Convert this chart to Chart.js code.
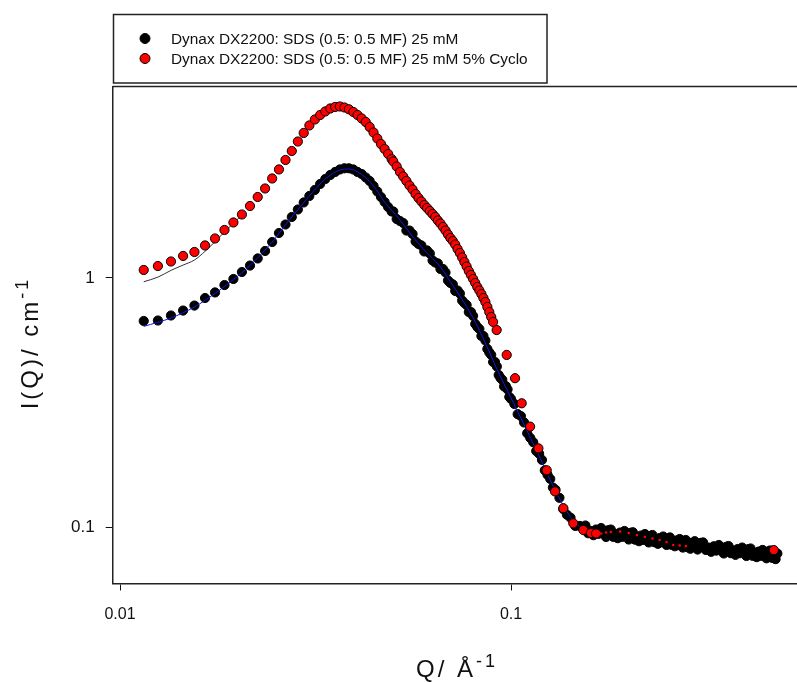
<!DOCTYPE html>
<html>
<head>
<meta charset="UTF-8">
<script src="https://cdn.jsdelivr.net/npm/chart.js"></script>
<style>
  * { margin: 0; padding: 0; }
  body { background: #fff; }
  #wrap { width: 797px; height: 682px; }
</style>
</head>
<body>
<div id="wrap"><canvas id="myChart" width="797" height="682"></canvas></div>
<script>
// Dynax DX2200: SDS (0.5: 0.5 MF) 25 mM  (black symbols)
const blackQ = [
  0.0115, 0.0125, 0.0135, 0.0145, 0.0155, 0.0165, 0.0175, 0.0185, 0.0195, 0.0205,
  0.0215, 0.0225, 0.0235, 0.0245, 0.0255, 0.0265, 0.0275, 0.0285, 0.0295, 0.0305,
  0.0315, 0.0325, 0.0335, 0.0345, 0.0355, 0.0365, 0.0375, 0.0385, 0.0395, 0.0405,
  0.0415, 0.0425, 0.0435, 0.0445, 0.0455, 0.0465, 0.0475, 0.0485, 0.0495,
  0.050, 0.051, 0.052, 0.053, 0.054, 0.055, 0.056, 0.057, 0.058, 0.059,
  0.060, 0.061, 0.062, 0.063, 0.064, 0.065, 0.066, 0.067, 0.068, 0.069,
  0.070, 0.071, 0.072, 0.073, 0.074, 0.075, 0.076, 0.077, 0.078, 0.079,
  0.080, 0.081, 0.082, 0.083, 0.084, 0.085, 0.086, 0.087, 0.088, 0.089,
  0.090, 0.091, 0.092, 0.093, 0.094, 0.095, 0.096, 0.097, 0.098, 0.099,
  0.100, 0.102, 0.104, 0.106, 0.108, 0.110, 0.112, 0.114, 0.116, 0.118,
  0.120, 0.122, 0.124, 0.126, 0.128, 0.130, 0.133, 0.136, 0.139, 0.142,
  0.146, 0.150,
  0.155, 0.1575, 0.160, 0.1625, 0.165, 0.1675, 0.170, 0.1725, 0.175, 0.1775,
  0.180, 0.1825, 0.185, 0.1875, 0.190, 0.1925, 0.195, 0.1975, 0.200, 0.2025,
  0.205, 0.2075, 0.210, 0.2125, 0.215, 0.2175, 0.220, 0.2225, 0.225, 0.2275,
  0.230, 0.2325, 0.235, 0.2375, 0.240, 0.2425, 0.245, 0.2475, 0.250, 0.2525,
  0.255, 0.2575, 0.260, 0.2625, 0.265, 0.2675, 0.270, 0.2725, 0.275, 0.2775,
  0.280, 0.2825, 0.285, 0.2875, 0.290, 0.2925, 0.295, 0.2975, 0.300,
  0.305, 0.31, 0.315, 0.32, 0.325, 0.33, 0.335, 0.34, 0.345, 0.35,
  0.355, 0.36, 0.365, 0.37, 0.375, 0.38, 0.385, 0.39, 0.395, 0.40,
  0.405, 0.41, 0.415, 0.42, 0.425, 0.43, 0.435, 0.44, 0.445, 0.45,
  0.455, 0.46, 0.465, 0.47, 0.475, 0.48
];
const blackI = [
  0.672, 0.675, 0.707, 0.740, 0.775, 0.831, 0.875, 0.937, 0.991, 1.057,
  1.122, 1.198, 1.284, 1.395, 1.516, 1.640, 1.758, 1.884, 2.011, 2.135,
  2.257, 2.385, 2.498, 2.593, 2.666, 2.728, 2.758, 2.758, 2.728, 2.666,
  2.616, 2.533, 2.453, 2.342, 2.226, 2.115, 2.020, 1.928, 1.850,
  1.850, 1.726, 1.694, 1.663, 1.551, 1.551, 1.502, 1.402, 1.370, 1.351,
  1.278, 1.290, 1.254, 1.176, 1.154, 1.144, 1.087, 1.087, 1.052, 0.977,
  0.955, 0.942, 0.887, 0.891, 0.866, 0.812, 0.793, 0.779, 0.730, 0.730,
  0.704, 0.654, 0.636, 0.624, 0.585, 0.585, 0.561, 0.519, 0.502, 0.491,
  0.460, 0.460, 0.441, 0.408, 0.397, 0.390, 0.367, 0.368, 0.357, 0.333,
  0.327, 0.312, 0.284, 0.279, 0.263, 0.238, 0.228, 0.219, 0.202, 0.197,
  0.186, 0.169, 0.162, 0.156, 0.144, 0.141, 0.131, 0.118, 0.112, 0.109,
  0.101, 0.101,
  0.1014, 0.0944, 0.0964, 0.0927, 0.0977, 0.0939, 0.0991, 0.0942, 0.0912, 0.0971,
  0.0977, 0.0913, 0.0937, 0.0902, 0.0950, 0.0913, 0.0964, 0.0918, 0.0891, 0.0948,
  0.0953, 0.0890, 0.0912, 0.0877, 0.0924, 0.0888, 0.0937, 0.0893, 0.0867, 0.0922,
  0.0929, 0.0869, 0.0891, 0.0856, 0.0903, 0.0869, 0.0916, 0.0872, 0.0847, 0.0902,
  0.0908, 0.0848, 0.0871, 0.0837, 0.0883, 0.0848, 0.0895, 0.0853, 0.0827, 0.0880,
  0.0887, 0.0830, 0.0851, 0.0818, 0.0863, 0.0831, 0.0877, 0.0836, 0.0812,
  0.0863, 0.0867, 0.0809, 0.0827, 0.0795, 0.0837, 0.0804, 0.0847, 0.0807, 0.0783,
  0.0833, 0.0839, 0.0785, 0.0805, 0.0773, 0.0816, 0.0785, 0.0827, 0.0788, 0.0765,
  0.0815, 0.0820, 0.0766, 0.0787, 0.0757, 0.0797, 0.0766, 0.0809, 0.0771, 0.0749,
  0.0798, 0.0805, 0.0752, 0.0772, 0.0743, 0.0783
];

// Dynax DX2200: SDS (0.5: 0.5 MF) 25 mM 5% Cyclo  (red symbols)
const redQ = [
  0.0115, 0.0125, 0.0135, 0.0145, 0.0155, 0.0165, 0.0175, 0.0185, 0.0195, 0.0205,
  0.0215, 0.0225, 0.0235, 0.0245, 0.0255, 0.0265, 0.0275, 0.0285, 0.0295, 0.0305,
  0.0315, 0.0325, 0.0335, 0.0345, 0.0355, 0.0365, 0.0375, 0.0385, 0.0395, 0.0405,
  0.0415, 0.0425, 0.0435, 0.0445, 0.0455, 0.0465, 0.0475, 0.0485, 0.0495,
  0.050, 0.051, 0.052, 0.053, 0.054, 0.055, 0.056, 0.057, 0.058, 0.059,
  0.060, 0.061, 0.062, 0.063, 0.064, 0.065, 0.066, 0.067, 0.068, 0.069,
  0.070, 0.071, 0.072, 0.073, 0.074, 0.075, 0.076, 0.077, 0.078, 0.079,
  0.080, 0.081, 0.082, 0.083, 0.084, 0.085, 0.086, 0.087, 0.088, 0.089,
  0.090,
  0.0919, 0.0975, 0.1024, 0.1065, 0.1119, 0.1175, 0.1234, 0.1296, 0.1361, 0.1443,
  0.1531, 0.160, 0.165, 0.170, 0.175, 0.180, 0.19, 0.20, 0.21, 0.22,
  0.23, 0.24, 0.25, 0.26, 0.27, 0.28, 0.29, 0.30, 0.32, 0.34,
  0.36, 0.38, 0.40, 0.42, 0.44, 0.47
];
const redI = [
  1.077, 1.117, 1.165, 1.226, 1.272, 1.351, 1.441, 1.559, 1.671, 1.799,
  1.946, 2.115, 2.288, 2.510, 2.728, 2.978, 3.236, 3.533, 3.823, 4.098,
  4.331, 4.515, 4.664, 4.795, 4.862, 4.884, 4.839, 4.759, 4.642, 4.515,
  4.372, 4.233, 4.041, 3.840, 3.633, 3.453, 3.297, 3.148, 3.005,
  2.937, 2.804, 2.666, 2.557, 2.453, 2.352, 2.267, 2.174, 2.096, 2.029,
  1.964, 1.910, 1.858, 1.807, 1.758, 1.702, 1.655, 1.603, 1.551, 1.495,
  1.447, 1.408, 1.363, 1.307, 1.260, 1.209, 1.159, 1.112, 1.067, 1.028,
  0.991, 0.955, 0.920, 0.891, 0.862, 0.831, 0.801, 0.765, 0.730, 0.697,
  0.666,
  0.618, 0.491, 0.396, 0.314, 0.253, 0.207, 0.169, 0.139, 0.119, 0.1035,
  0.0973, 0.0946, 0.0942, 0.0942, 0.0950, 0.0955, 0.0959, 0.0946, 0.0929, 0.0912,
  0.0899, 0.0887, 0.0871, 0.0847, 0.0843, 0.0839, 0.0835, 0.0831, 0.0827, 0.0823,
  0.0820, 0.0816, 0.0812, 0.0812, 0.0808, 0.0808
];

// model fits
const fitBlackQ = [0.0115, 0.0135, 0.0155, 0.0175, 0.0195, 0.0215, 0.0245, 0.0275, 0.0305, 0.0335,
  0.0365, 0.0385, 0.0415, 0.0445, 0.0475, 0.052, 0.056, 0.060, 0.066, 0.070,
  0.074, 0.080, 0.086, 0.092, 0.100, 0.109, 0.118, 0.127, 0.134, 0.142, 0.150];
const fitBlackI = [0.639, 0.691, 0.765, 0.867, 0.986, 1.122, 1.395, 1.758, 2.135, 2.498,
  2.714, 2.740, 2.605, 2.342, 2.020, 1.710, 1.468, 1.295, 1.107, 0.964,
  0.847, 0.691, 0.548, 0.431, 0.330, 0.250, 0.193, 0.1502, 0.1274, 0.1096, 0.1000];
const fitRedQ = [0.0115, 0.0125, 0.0135, 0.0145, 0.0155, 0.0165, 0.0175, 0.0185, 0.0195, 0.0205];
const fitRedI = [0.966, 1.008, 1.073, 1.127, 1.181, 1.280, 1.400, 1.530, 1.660, 1.790];

const xTicks = [0.01, 0.1];
const yTicks = [0.1, 1];

const pts = (q, v) => q.map((x, k) => ({ x: x, y: v[k] }));
const FONT = "'Liberation Sans', Arial, sans-serif";

// red symbols deep in the tail are buried under the black cloud
const redRadius = (ctx) => {
  const q = ctx.raw ? ctx.raw.x : 0;
  if (q > 0.165 && q < 0.285) return 1.3;
  if (q >= 0.285 && q < 0.46) return 0;
  return 4.6;
};

function drawTitle(ctx, main, sup, x, y, rotate) {
  ctx.save();
  ctx.translate(x, y);
  if (rotate) ctx.rotate(-Math.PI / 2);
  ctx.fillStyle = '#111';
  ctx.textBaseline = 'alphabetic';
  ctx.letterSpacing = '3px';
  ctx.font = '24px ' + FONT;
  const w1 = ctx.measureText(main).width;
  ctx.font = '18px ' + FONT;
  const w2 = ctx.measureText(sup).width;
  const start = -(w1 + w2) / 2;
  ctx.font = '24px ' + FONT;
  ctx.textAlign = 'left';
  ctx.fillText(main, start, 0);
  ctx.font = '18px ' + FONT;
  ctx.fillText(sup, start + w1, -10);
  ctx.restore();
}

const decor = {
  id: 'decor',
  afterDraw: (chart) => {
    const ctx = chart.ctx;
    const a = chart.chartArea;
    ctx.save();
    // top frame line
    ctx.strokeStyle = '#222';
    ctx.lineWidth = 1.5;
    ctx.beginPath();
    ctx.moveTo(a.left, a.top);
    ctx.lineTo(797, a.top);
    ctx.stroke();

    // legend box
    ctx.strokeRect(113.5, 14.5, 433.5, 68.5);
    const items = [chart.data.datasets[2], chart.data.datasets[0]];
    items.forEach((ds, k) => {
      const cy = 38.5 + k * 20;
      ctx.beginPath();
      ctx.arc(145, cy, 5, 0, Math.PI * 2);
      ctx.fillStyle = ds.backgroundColor;
      ctx.fill();
      ctx.lineWidth = 1;
      ctx.strokeStyle = '#000';
      ctx.stroke();
      ctx.fillStyle = '#111';
      ctx.font = '15.4px ' + FONT;
      ctx.textAlign = 'left';
      ctx.textBaseline = 'alphabetic';
      ctx.fillText(ds.label, 171, cy + 5);
    });
    ctx.restore();

    drawTitle(ctx, 'Q/ Å', '-1', 457, 677, false);
    drawTitle(ctx, 'I(Q)/ cm', '-1', 38, 343, true);
  }
};

const tickGrid = { display: true, drawOnChartArea: false, drawTicks: true, tickLength: 7, tickWidth: 1, tickColor: '#111', color: '#111' };

const config = {
  type: 'scatter',
  data: {
    datasets: [
      {
        label: 'Dynax DX2200: SDS (0.5: 0.5 MF) 25 mM 5% Cyclo',
        data: pts(redQ, redI),
        backgroundColor: '#ff0000',
        borderColor: '#000',
        pointBorderWidth: (ctx) => redRadius(ctx) < 2 ? 0 : 1,
        pointRadius: redRadius,
        showLine: false
      },
      {
        label: 'fit black',
        data: pts(fitBlackQ, fitBlackI),
        showLine: true,
        borderColor: '#1414e6',
        borderWidth: 1,
        pointRadius: 0,
        cubicInterpolationMode: 'monotone'
      },
      {
        label: 'Dynax DX2200: SDS (0.5: 0.5 MF) 25 mM',
        data: pts(blackQ, blackI),
        backgroundColor: '#000',
        borderColor: '#000',
        pointBorderWidth: 1,
        pointRadius: 4.6,
        showLine: false
      },
      {
        label: 'fit red',
        data: pts(fitRedQ, fitRedI),
        showLine: true,
        borderColor: '#333',
        borderWidth: 1,
        pointRadius: 0,
        cubicInterpolationMode: 'monotone'
      }
    ]
  },
  plugins: [decor],
  options: {
    responsive: false,
    animation: false,
    devicePixelRatio: 1,
    events: [],
    layout: { autoPadding: false, padding: { top: 86.5, left: 0, right: 0, bottom: 0 } },
    plugins: { legend: { display: false }, tooltip: { enabled: false } },
    scales: {
      x: {
        type: 'logarithmic',
        min: 0.009579,
        max: 0.5388,
        afterBuildTicks: (s) => { s.ticks = xTicks.map(v => ({ value: v })); },
        afterFit: (s) => { s.height = 98.5; s.paddingLeft = 0; s.paddingRight = 0; },
        grid: tickGrid,
        border: { display: true, color: '#222', width: 1.5 },
        ticks: {
          autoSkip: false, maxRotation: 0, padding: 14, color: '#111',
          font: { family: FONT, size: 16 },
          callback: (v) => String(v)
        }
      },
      y: {
        type: 'logarithmic',
        min: 0.05932,
        max: 5.875,
        afterBuildTicks: (s) => { s.ticks = yTicks.map(v => ({ value: v })); },
        afterFit: (s) => { s.width = 112.7; s.paddingTop = 0; s.paddingBottom = 0; },
        grid: tickGrid,
        border: { display: true, color: '#222', width: 1.5 },
        ticks: {
          autoSkip: false, padding: 11, color: '#111',
          font: { family: FONT, size: 17 },
          callback: (v) => String(v)
        }
      }
    }
  }
};

const myChart = new Chart(document.getElementById('myChart'), config);
</script>
</body>
</html>
